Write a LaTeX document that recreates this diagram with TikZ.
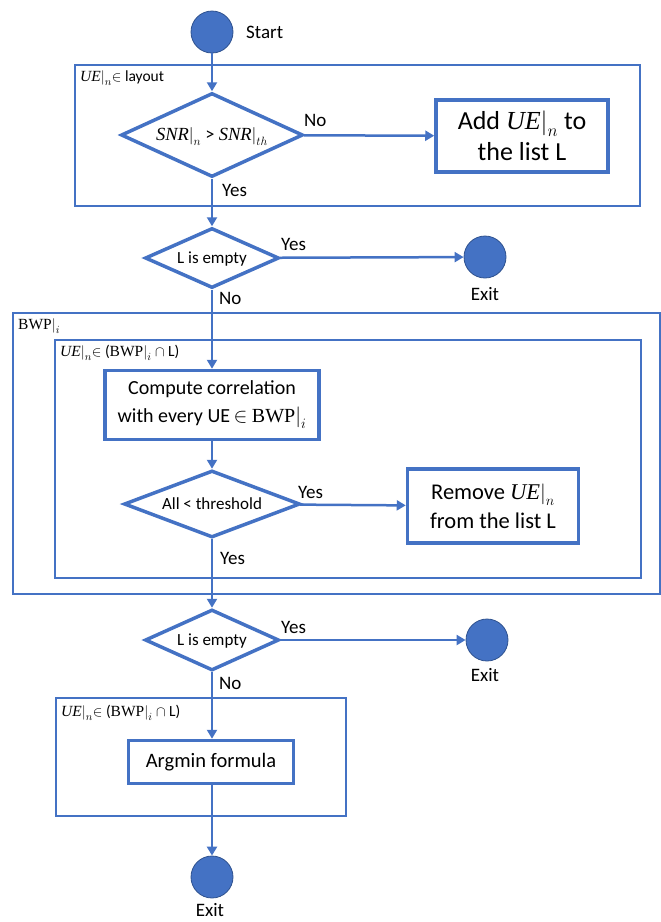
\documentclass[tikz,border=0pt]{standalone}
\usepackage{fontspec}
\setmainfont{Carlito}
\newfontfamily\varserif{Liberation Serif}
\usetikzlibrary{shapes.geometric,arrows.meta}
\definecolor{flowblue}{HTML}{4472C4}
\definecolor{circedge}{HTML}{2F528F}
% italic serif variable, its vertical bar and subscript
\newcommand{\vv}[1]{{\varserif\itshape #1}}
\newcommand{\restr}[1]{\ensuremath{\big|_{#1}}}
\newcommand{\bwp}{{\varserif BWP}}
% text inside a diamond, kept out of the shape's size
\newcommand{\dtext}[1]{\makebox[0pt]{\smash{\raisebox{-0.32em}{#1}}}}
\tikzset{
  group/.style={draw=flowblue, line width=1.3pt},
  grouplabel/.style={anchor=west, inner sep=0pt, font=\fontsize{15.5}{19}\selectfont},
  process/.style={rectangle, draw=flowblue, line width=3.5pt, align=center, inner sep=0pt,
    font=\fontsize{20}{28}\selectfont},
  decision/.style={diamond, draw=flowblue, line width=3.5pt, inner sep=0pt,
    font=\fontsize{17}{20}\selectfont},
  terminal/.style={circle, fill=flowblue, draw=circedge, line width=0.8pt,
    minimum size=42pt, inner sep=0pt},
  termlabel/.style={font=\fontsize{19}{22}\selectfont, inner sep=0pt},
  flow/.style={draw=flowblue, line width=2.5pt, -{Triangle[length=9pt,width=10pt]}},
  branch/.style={font=\fontsize{19}{22}\selectfont, inner sep=0pt, anchor=west},
}
\begin{document}
\begin{tikzpicture}[x=1pt,y=-1pt]
\useasboundingbox (0,0) rectangle (661,922);

% grouping frames
\draw[group] (75,65) rectangle (640,206);
\draw[group] (13,313) rectangle (660,594);
\draw[group] (55,340) rectangle (641,578);
\draw[group] (56,698) rectangle (346,816);
\node[grouplabel] (gl1) at (80,78) {\vv{UE}\restr{n}$\in$ layout};
\node[grouplabel] (gl2) at (18,326) {\bwp\restr{i}};
\node[grouplabel] (gl3) at (60,353) {\vv{UE}\restr{n}$\in$ ({\bwp}\restr{i} $\cap$ L)};
\node[grouplabel] (gl4) at (61,713) {\vv{UE}\restr{n}$\in$ ({\bwp}\restr{i} $\cap$ L)};

% terminals
\node[terminal] (start) at (212,32) {};
\node[termlabel, anchor=west] (startlbl) at (246,32) {Start};
\node[terminal] (exitA) at (485,257) {};
\node[termlabel] (exitAlbl) at (485,294) {Exit};
\node[terminal] (exitB) at (487,640) {};
\node[termlabel] (exitBlbl) at (485,675) {Exit};
\node[terminal] (exitC) at (212,877) {};
\node[termlabel] (exitClbl) at (210,910) {Exit};

% decisions
\node[decision, minimum width=182pt, minimum height=84pt, font=\fontsize{18.5}{22}\selectfont]
  (snr) at (212,135) {\dtext{\vv{SNR}\restr{n} > \vv{SNR}\restr{th}}};
\node[decision, minimum width=134pt, minimum height=60pt] (emptyA) at (212,258) {\dtext{L is empty}};
\node[decision, minimum width=176pt, minimum height=67pt] (thr) at (212,504) {\dtext{All < threshold}};
\node[decision, minimum width=134pt, minimum height=61pt] (emptyB) at (212,640) {\dtext{L is empty}};

% processes
\node[process, minimum width=172pt, minimum height=72pt, font=\fontsize{26}{31}\selectfont]
  (add) at (522,136) {Add \vv{UE}\restr{n} to\\the list L};
\node[process, minimum width=214pt, minimum height=69pt] (corr) at (212,405)
  {Compute correlation\\with every UE$\,\in$ \bwp\restr{i}};
\node[process, minimum width=171pt, minimum height=74pt, font=\fontsize{22.5}{29}\selectfont]
  (remove) at (493,506) {Remove \vv{UE}\restr{n}\\from the list L};
\node[process, minimum width=165pt, minimum height=43pt, font=\fontsize{20.5}{24}\selectfont]
  (argmin) at (211,762) {Argmin formula};

% connectors
\draw[flow] (start) -- (snr);
\draw[flow] (snr) -- (add);
\draw[flow] (snr) -- (emptyA);
\draw[flow] (emptyA) -- (exitA);
\draw[flow] (emptyA) -- (corr);
\draw[flow] (corr) -- (thr);
\draw[flow] (thr) -- (remove);
\draw[flow] (thr) -- (emptyB);
\draw[flow] (emptyB) -- (exitB);
\draw[flow] (emptyB) -- (argmin.north -| emptyB);
\draw[flow] (argmin.south -| start) -- (exitC);

% branch labels
\node[branch] (noA) at (304,120) {No};
\node[branch] (yesA) at (222,190) {Yes};
\node[branch] (yesB) at (281,244) {Yes};
\node[branch] (noB) at (219,298) {No};
\node[branch] (yesC) at (298,492) {Yes};
\node[branch] (yesD) at (220,558) {Yes};
\node[branch] (yesE) at (281,627) {Yes};
\node[branch] (noC) at (219,683) {No};
\end{tikzpicture}
\end{document}
